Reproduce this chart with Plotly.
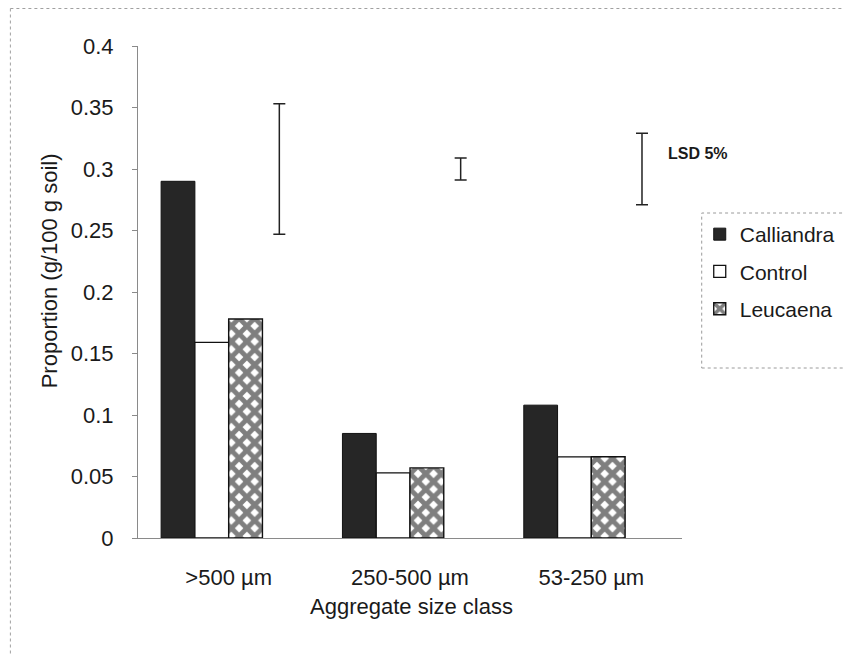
import plotly.graph_objects as go

categories = [">500 µm", "250-500 µm", "53-250 µm"]
calliandra = [0.290, 0.085, 0.108]
control = [0.159, 0.053, 0.066]
leucaena = [0.178, 0.057, 0.066]
lsd_center = [0.30, 0.30, 0.30]
lsd_5pct = [0.106, 0.018, 0.058]
y_ticks = [0, 0.05, 0.1, 0.15, 0.2, 0.25, 0.3, 0.35, 0.4]

FONT = "Liberation Sans, Arial, sans-serif"
OFF = 8  # page body margin
W, H = 852 - OFF, 656 - OFF
L, T = 138 - OFF, 46 - OFF
R = W - (690 - OFF)
B = H - (538 - OFF)
PW, PH = W - L - R, H - T - B


def px(x):
    return (x - OFF - L) / PW


def py(y):
    return (H - B - (y - OFF)) / PH


fig = go.Figure()
fig.add_trace(go.Bar(
    x=categories, y=calliandra, name="Calliandra",
    marker=dict(color="#262626", line=dict(color="#111111", width=1)),
    legendgroup="a",
))
fig.add_trace(go.Bar(
    x=categories, y=control, name="Control",
    marker=dict(color="white", line=dict(color="#111111", width=1.3)),
    legendgroup="b",
))
fig.add_trace(go.Bar(
    x=categories, y=leucaena, name="Leucaena",
    marker=dict(color="white", line=dict(color="#111111", width=1.4),
                pattern=dict(shape="x", fgcolor="#000000", bgcolor="white",
                             size=11, solidity=0.7)),
    legendgroup="c",
))
fig.add_trace(go.Bar(
    x=categories, y=lsd_center, name="LSD 5%", showlegend=False,
    marker=dict(color="rgba(0,0,0,0)", line=dict(width=0)),
    error_y=dict(type="data", array=[v / 2 for v in lsd_5pct], visible=True,
                 color="#222222", thickness=1.5, width=6),
))

fig.update_layout(
    width=W, height=H,
    margin=dict(l=L, r=R, t=T, b=B),
    paper_bgcolor="white", plot_bgcolor="white",
    barmode="group", bargap=0.255, bargroupgap=0,
    font=dict(family=FONT, color="#1a1a1a"),
    showlegend=True,
    legend=dict(x=px(708), y=py(214), xanchor="left", yanchor="top",
                font=dict(size=21, family=FONT, color="#1a1a1a"),
                bgcolor="rgba(0,0,0,0)", traceorder="grouped", tracegroupgap=7,
                itemwidth=30),
    xaxis=dict(
        type="category", range=[-0.5, 2.5],
        showline=True, linecolor="#8a8a8a", linewidth=1,
        showgrid=False, ticks="", ticklabelstandoff=20,
        tickfont=dict(size=22, family=FONT, color="#1a1a1a"),
    ),
    yaxis=dict(
        range=[0, 0.4], tickvals=y_ticks,
        showline=True, linecolor="#8a8a8a", linewidth=1,
        showgrid=False, ticks="outside", ticklen=5, tickcolor="#8a8a8a",
        ticklabelstandoff=14,
        tickfont=dict(size=22, family=FONT, color="#1a1a1a"),
        zeroline=False,
    ),
    annotations=[
        dict(text="Aggregate size class", xref="paper", yref="paper",
             x=px(416), y=py(606), xanchor="center", yanchor="middle",
             showarrow=False, font=dict(size=22, family=FONT, color="#1a1a1a")),
        dict(text="Proportion (g/100 g soil)", xref="paper", yref="paper",
             x=px(48), y=py(271), xanchor="center", yanchor="middle", textangle=-90,
             showarrow=False, font=dict(size=22, family=FONT, color="#1a1a1a")),
        dict(text="<b>LSD 5%</b>", xref="paper", yref="paper",
             x=px(674), y=py(153), xanchor="left", yanchor="middle",
             showarrow=False, font=dict(size=16, family=FONT, color="#1a1a1a")),
    ],
    shapes=[
        dict(type="rect", xref="paper", yref="paper",
             x0=px(710), x1=px(870), y0=py(368), y1=py(213),
             line=dict(color="#9a9a9a", width=1, dash="dot"), fillcolor="rgba(0,0,0,0)"),
        dict(type="line", xref="paper", yref="paper",
             x0=px(8.5), x1=px(8.5), y0=py(8.5), y1=py(656),
             line=dict(color="#a0a0a0", width=1, dash="dot")),
        dict(type="line", xref="paper", yref="paper",
             x0=px(8.5), x1=px(852), y0=py(8.5), y1=py(8.5),
             line=dict(color="#a0a0a0", width=1, dash="dot")),
    ],
)

fig.write_html("out.html")
